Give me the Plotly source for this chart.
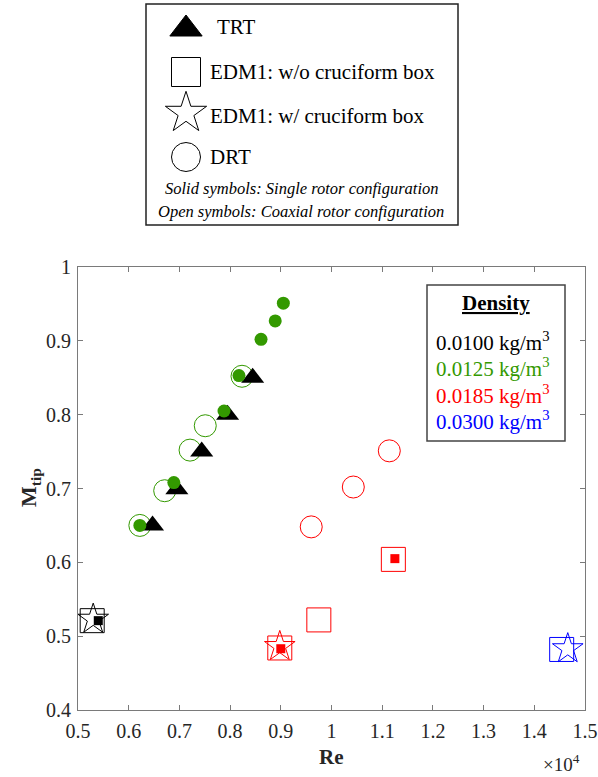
import plotly.graph_objects as go

W, H = 598, 777
def px(x): return x / W
def py(y): return 1 - y / H

FONT = '"Liberation Serif", "Times New Roman", Times, serif'
GREEN = '#339900'; RED = '#ff0000'; BLUE = '#0000ff'; BLACK = '#000000'
AXC = '#7a7a7a'

# ---------------- data ----------------
# TRT, single rotor (solid triangles), density 0.0100
trt_re = [6470, 6950, 7440, 7950, 8445]
trt_m = [0.650, 0.699, 0.750, 0.800, 0.850]
# DRT, single rotor (solid circles), density 0.0125
drt_single_re = [6220, 6890, 7880, 8175, 8610, 8890, 9050]
drt_single_m = [0.650, 0.708, 0.805, 0.853, 0.902, 0.927, 0.951]
# DRT, coaxial (open circles), density 0.0125
drt_coax_g_re = [6220, 6710, 7210, 7510, 8235]
drt_coax_g_m = [0.650, 0.697, 0.752, 0.785, 0.852]
# DRT, coaxial (open circles), density 0.0185
drt_coax_r_re = [9600, 10430, 11140]
drt_coax_r_m = [0.648, 0.702, 0.751]
# EDM1 w/o cruciform box, coaxial (open squares)
edm_wo_re = [5280, 8980, 9750, 11220, 14540]
edm_wo_m = [0.521, 0.484, 0.522, 0.604, 0.482]
edm_wo_col = [BLACK, RED, RED, RED, BLUE]
# EDM1 w/ cruciform box, coaxial (open stars)
edm_w_re = [5300, 8980, 14660]
edm_w_m = [0.523, 0.486, 0.483]
edm_w_col = [BLACK, RED, BLUE]
# EDM1 w/o cruciform box, single rotor (solid squares)
edm_single_re = [5400, 9000, 11250]
edm_single_m = [0.521, 0.483, 0.605]
edm_single_col = [BLACK, RED, RED]

x_ticks = [5000, 6000, 7000, 8000, 9000, 10000, 11000, 12000, 13000, 14000, 15000]
x_ticktext = ['0.5', '0.6', '0.7', '0.8', '0.9', '1', '1.1', '1.2', '1.3', '1.4', '1.5']
y_ticks = [0.4, 0.5, 0.6, 0.7, 0.8, 0.9, 1.0]
y_ticktext = ['0.4', '0.5', '0.6', '0.7', '0.8', '0.9', '1']

density_labels = ['0.0100', '0.0125', '0.0185', '0.0300']
density_colors = [BLACK, GREEN, RED, BLUE]

legend_names = ['TRT', 'EDM1: w/o cruciform box', 'EDM1: w/ cruciform box', 'DRT']

fig = go.Figure()

def add(xs, ys, symbol, size, color, lw=1):
    fig.add_trace(go.Scatter(
        x=xs, y=ys, mode='markers', showlegend=False, hoverinfo='skip',
        marker=dict(symbol=symbol, size=size, color=color,
                    line=dict(width=lw, color=color)),
        cliponaxis=False))

add(drt_coax_g_re, drt_coax_g_m, 'circle-open', 22, GREEN)
add(drt_coax_r_re, drt_coax_r_m, 'circle-open', 22, RED)
add(edm_wo_re, edm_wo_m, 'square-open', 24, edm_wo_col)
add(edm_w_re, edm_w_m, 'star-open', 23, edm_w_col)
add(trt_re, trt_m, 'triangle-up', 20, BLACK, lw=0)
add(edm_single_re, edm_single_m, 'square', 9, edm_single_col, lw=0)
add(drt_single_re, drt_single_m, 'circle', 13, GREEN, lw=0)

# legend glyphs (in a small overlay axis placed on the legend box)
LX0, LX1, LY0, LY1 = 146, 458, 4, 225
leg_y_px = [29, 72, 113, 157]
leg_syms = ['triangle-up', 'square-open', 'star-open', 'circle-open']
leg_sizes = [28, 29, 31, 29]
for yy, s, sz in zip(leg_y_px, leg_syms, leg_sizes):
    fig.add_trace(go.Scatter(
        x=[(186 - LX0) / (LX1 - LX0)], y=[1 - (yy - LY0) / (LY1 - LY0)],
        xaxis='x2', yaxis='y2', mode='markers', showlegend=False, hoverinfo='skip',
        marker=dict(symbol=s, size=sz, color=BLACK, line=dict(width=1, color=BLACK)),
        cliponaxis=False))

axis_common = dict(showline=True, linecolor=AXC, linewidth=1, mirror='ticks',
                   ticks='inside', ticklen=5, tickcolor=AXC, showgrid=False, zeroline=False,
                   automargin=False,
                   tickfont=dict(family=FONT, size=20, color='#262626'))

fig.update_layout(
    template='none',
    font=dict(family=FONT),
    showlegend=False,
    width=W, height=H, margin=dict(l=0, r=0, t=0, b=0, pad=0, autoexpand=False),
    paper_bgcolor='white', plot_bgcolor='white',
    xaxis=dict(domain=[px(78), px(585)], range=[5000, 15000], tickvals=x_ticks,
               ticktext=x_ticktext, anchor='y', ticklabelstandoff=3, **axis_common),
    yaxis=dict(domain=[py(710), py(267)], range=[0.4, 1.0], tickvals=y_ticks,
               ticktext=y_ticktext, anchor='x', ticklabelstandoff=2, **axis_common),
    xaxis2=dict(domain=[px(LX0), px(LX1)], range=[0, 1], visible=False, anchor='y2',
                automargin=False),
    yaxis2=dict(domain=[py(LY1), py(LY0)], range=[0, 1], visible=False, anchor='x2',
                automargin=False),
)

shapes = [
    dict(type='rect', xref='paper', yref='paper', x0=px(LX0), x1=px(LX1), y0=py(LY1), y1=py(LY0),
         line=dict(color='#222222', width=1.5), fillcolor='rgba(0,0,0,0)', layer='below'),
    dict(type='rect', xref='paper', yref='paper', x0=px(427), x1=px(565), y0=py(441), y1=py(285),
         line=dict(color='#444444', width=1.5), fillcolor='white', layer='above'),
]
fig.update_layout(shapes=shapes)

ann = []
leg_text_x = [215, 208, 208, 208]
for name, yy, xx in zip(legend_names, [27, 72, 116, 157], leg_text_x):
    ann.append(dict(text=name, x=px(xx), y=py(yy), xref='paper', yref='paper',
                    xanchor='left', yanchor='middle', showarrow=False,
                    font=dict(family=FONT, size=21, color=BLACK)))
for t, yy in [('<i>Solid symbols: Single rotor configuration</i>', 188),
              ('<i>Open symbols: Coaxial rotor configuration</i>', 211)]:
    ann.append(dict(text=t, x=px(301), y=py(yy), xref='paper', yref='paper',
                    xanchor='center', yanchor='middle', showarrow=False,
                    font=dict(family=FONT, size=16.5, color=BLACK)))

ann.append(dict(text='<b><u>Density</u></b>', x=px(496), y=py(303), xref='paper', yref='paper',
                xanchor='center', yanchor='middle', showarrow=False,
                font=dict(family=FONT, size=21, color=BLACK)))
for lab, col, yy in zip(density_labels, density_colors, [341, 367, 394, 420]):
    ann.append(dict(text=lab + ' kg/m<sup>3</sup>', x=px(434), y=py(yy), xref='paper', yref='paper',
                    xanchor='left', yanchor='middle', showarrow=False,
                    font=dict(family=FONT, size=21, color=col)))

ann.append(dict(text='<b>Re</b>', x=px(331), y=py(757), xref='paper', yref='paper',
                xanchor='center', yanchor='middle', showarrow=False,
                font=dict(family=FONT, size=21, color='#262626')))
ann.append(dict(text='<b>M<sub>tip</sub></b>', x=px(30), y=py(488), xref='paper', yref='paper',
                xanchor='center', yanchor='middle', showarrow=False, textangle=-90,
                font=dict(family=FONT, size=22, color='#262626')))
ann.append(dict(text='\u00d710<sup>4</sup>', x=px(561), y=py(763), xref='paper', yref='paper',
                xanchor='center', yanchor='middle', showarrow=False,
                font=dict(family=FONT, size=19, color='#262626')))
fig.update_layout(annotations=ann)

fig.write_html("out.html")
